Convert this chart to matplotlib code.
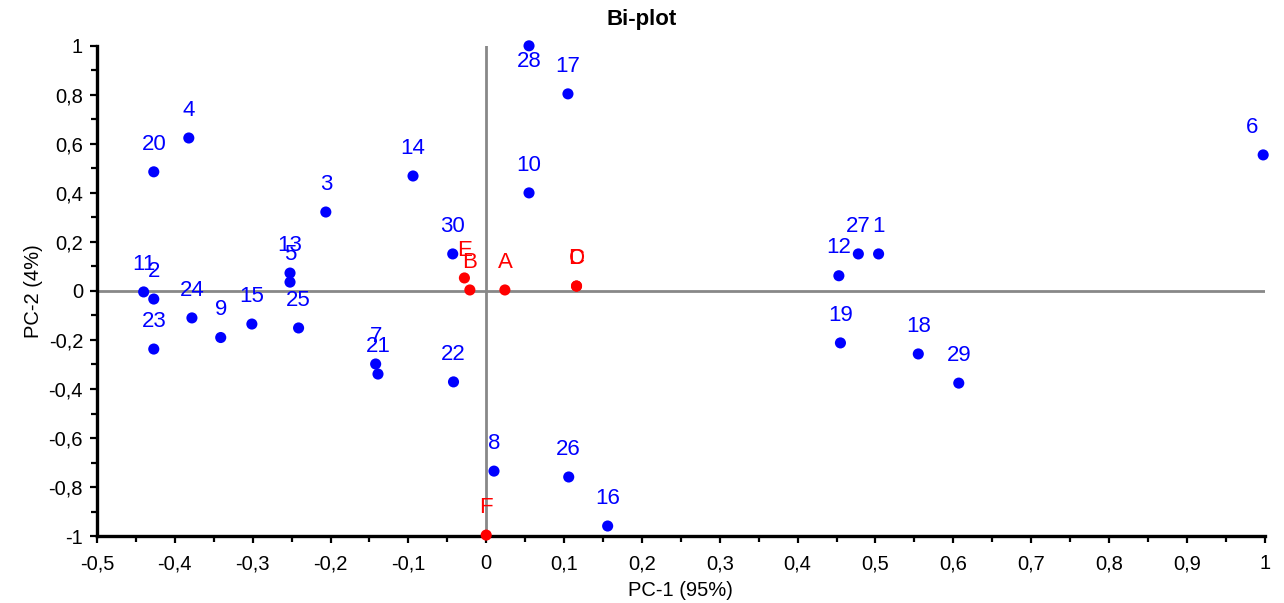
import matplotlib.pyplot as plt
from matplotlib.ticker import MultipleLocator, FuncFormatter

plt.rcParams['font.family'] = ['Liberation Sans', 'DejaVu Sans']

# observations (blue)
obs_labels = ['1', '2', '3', '4', '5', '6', '7', '8', '9', '10',
              '11', '12', '13', '14', '15', '16', '17', '18', '19', '20',
              '21', '22', '23', '24', '25', '26', '27', '28', '29', '30']
obs_x = [0.504, -0.427, -0.206, -0.382, -0.252, 0.998, -0.142, 0.010, -0.341, 0.055,
         -0.440, 0.453, -0.252, -0.094, -0.301, 0.156, 0.105, 0.555, 0.455, -0.427,
         -0.139, -0.042, -0.427, -0.378, -0.241, 0.106, 0.478, 0.055, 0.607, -0.043]
obs_y = [0.151, -0.033, 0.322, 0.624, 0.036, 0.555, -0.298, -0.735, -0.190, 0.400,
         -0.004, 0.062, 0.073, 0.469, -0.135, -0.959, 0.804, -0.257, -0.212, 0.486,
         -0.339, -0.371, -0.237, -0.110, -0.151, -0.759, 0.151, 1.000, -0.376, 0.151]

# variables (red)
var_labels = ['A', 'B', 'C', 'D', 'E', 'F']
var_x = [0.024, -0.021, 0.116, 0.116, -0.028, 0.0]
var_y = [0.004, 0.004, 0.020, 0.020, 0.053, -0.996]

# label offsets in points (default is straight above)
special_offsets = {'28': (0, -11), '6': (-8, 20)}

fig = plt.figure(figsize=(12.84, 6.03), dpi=100)
ax = fig.add_axes([0.0755, 0.111, 0.9095, 0.813])

ax.axhline(0, color='#888888', lw=2, zorder=1)
ax.axvline(0, color='#888888', lw=2, zorder=1)

ax.scatter(obs_x, obs_y, s=64, color='#0000ff', zorder=3, edgecolors='none', clip_on=False)
ax.scatter(var_x, var_y, s=64, color='#ff0000', zorder=3, edgecolors='none', clip_on=False)

for lab, x, y in zip(obs_labels, obs_x, obs_y):
    off = special_offsets.get(lab, (0, 20))
    ax.annotate(lab, (x, y), xytext=off, textcoords='offset points',
                ha='center', va='center', color='#0000ff', fontsize=16)
for lab, x, y in zip(var_labels, var_x, var_y):
    ax.annotate(lab, (x, y), xytext=(0, 20), textcoords='offset points',
                ha='center', va='center', color='#ff0000', fontsize=16)

ax.set_xlim(-0.5, 1.0)
ax.set_ylim(-1.0, 1.0)
ax.xaxis.set_major_locator(MultipleLocator(0.1))
ax.xaxis.set_minor_locator(MultipleLocator(0.05))
ax.yaxis.set_major_locator(MultipleLocator(0.2))
ax.yaxis.set_minor_locator(MultipleLocator(0.1))

comma = FuncFormatter(lambda v, p: ('%g' % round(v, 2)).replace('.', ','))
ax.xaxis.set_major_formatter(comma)
ax.yaxis.set_major_formatter(comma)

for s in ['top', 'right']:
    ax.spines[s].set_visible(False)
for s in ['left', 'bottom']:
    ax.spines[s].set_linewidth(2.4)
    ax.spines[s].set_color('black')

ax.tick_params(which='major', length=5, width=1.6, labelsize=14.5, direction='out', pad=5)
ax.tick_params(axis='x', which='major', pad=8)
ax.tick_params(which='minor', length=4, width=1.6, direction='out')

ax.set_xlabel('PC-1 (95%)', fontsize=14.5, labelpad=6)
ax.set_ylabel('PC-2 (4%)', fontsize=14.5, labelpad=4)
fig.text(0.5, 1 - 20 / 603, 'Bi-plot', fontsize=16, fontweight='bold',
         ha='center', va='center')

fig.savefig('out.png', dpi=100)
